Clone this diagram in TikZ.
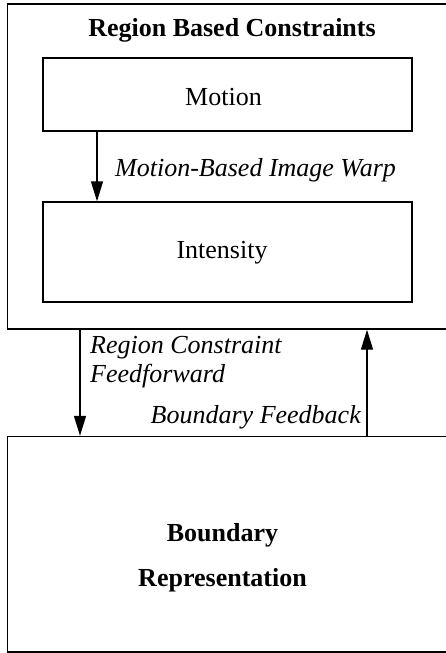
\documentclass[tikz,border=0pt]{standalone}
\usepackage{fontspec}
\setmainfont{Liberation Serif}
\usetikzlibrary{arrows.meta}
\begin{document}
\begin{tikzpicture}[x=1pt,y=-1pt,
  box/.style={draw, line width=1.4pt, inner sep=0pt, rectangle},
  txt/.style={inner sep=0pt, font=\fontsize{26}{29}\selectfont},
  bold/.style={inner sep=0pt, font=\fontsize{26}{45}\selectfont\bfseries},
  lbl/.style={inner sep=0pt, font=\fontsize{26}{29}\selectfont\itshape},
  arr/.style={line width=1.4pt, -{Triangle[length=20pt,width=12pt]}}]
\useasboundingbox (0,0) rectangle (446,653);
\clip (0,0) rectangle (446,653);
\fill[white] (0,0) rectangle (446,653);

% outer container and its heading
\node[box, minimum width=452.5pt, minimum height=325pt] (region) at (233.75,166.5) {};
\node[bold, anchor=base] (title) at (232,36) {Region Based Constraints};

% inner boxes and their captions
\node[box, minimum width=369pt, minimum height=73pt] (motion) at (227.5,94.5) {};
\node[txt, anchor=base] (motiontxt) at (223.5,105) {Motion};
\node[box, minimum width=369pt, minimum height=100pt] (intensity) at (227.5,252) {};
\node[txt, anchor=base] (intensitytxt) at (222,258) {Intensity};

% lower box and its caption
\node[box, minimum width=452.5pt, minimum height=215.5pt] (boundary) at (233.75,544.25) {};
\node[bold, anchor=base, align=center] (boundarytxt) at (222.5,586) {Boundary\\Representation};

% connector columns
\coordinate (cw) at (97,0);
\coordinate (cd) at (80,0);
\coordinate (cu) at (367,0);

\draw[arr] (motion.south -| cw) -- (intensity.north -| cw);
\node[lbl, anchor=base west] (warp) at (115,176) {Motion-Based Image Warp};

\draw[arr] (region.south -| cd) -- (boundary.north -| cd);
\node[lbl, anchor=base west, align=left] (ff) at (90,382) {Region Constraint\\Feedforward};

\draw[arr] (boundary.north -| cu) -- (region.south -| cu);
\node[lbl, anchor=base east] (fb) at (361,423) {Boundary Feedback};
\end{tikzpicture}
\end{document}
